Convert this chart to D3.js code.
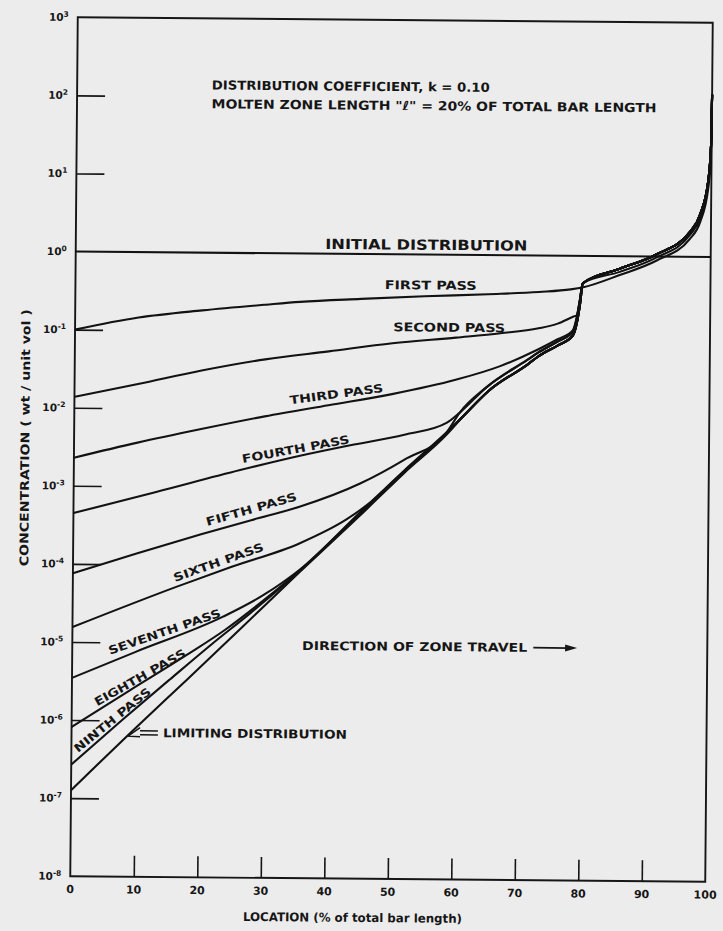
<!DOCTYPE html>
<html>
<head>
<meta charset="utf-8">
<script src="https://d3js.org/d3.v7.min.js"></script>
<title>Zone refining passes</title>
<style>
  body { margin: 0; background: #ececec; }
  text { font-family: "DejaVu Sans", sans-serif; font-weight: bold; fill: #161616; }
</style>
</head>
<body>
<div class="viz"></div>
<script>
// tick labels
var xTicks = [0, 10, 20, 30, 40, 50, 60, 70, 80, 90, 100];
var yExponents = [3, 2, 1, 0, -1, -2, -3, -4, -5, -6, -7, -8];

// curves: [location %, concentration]
var initialDist = [[0, 1], [100, 1]];
var firstPass = [[0, 0.100], [10, 0.145], [20, 0.182], [30, 0.219], [35.4, 0.240], [45, 0.266], [55, 0.292],
    [65, 0.316], [73, 0.342], [78, 0.372], [80, 0.398], [85.7, 0.575], [91.5, 0.891], [96.7, 1.70],
    [98.3, 2.82], [99.5, 7.41], [99.9, 21.4], [100, 120]];
var secondPass = [[0, 0.0138], [10, 0.0204], [20, 0.0309], [30, 0.0437], [40, 0.0562], [50, 0.0724],
    [60, 0.0871], [67, 0.100], [73, 0.117], [76, 0.135], [78.4, 0.166], [79.0, 0.174], [79.4, 0.251], [79.9, 0.447]];
var thirdPass = [[0, 0.00229], [10, 0.00363], [20, 0.00550], [30, 0.00813], [40, 0.0115], [50, 0.0162],
    [60, 0.0251], [67, 0.0380], [73, 0.0631], [76, 0.0851], [78.4, 0.112], [79.0, 0.166],
    [79.4, 0.257], [79.9, 0.447]];
var fourthPass = [[0, 4.47e-4], [13, 8.51e-4], [26.2, 1.66e-3], [35.6, 2.57e-3], [43.5, 3.55e-3], [52, 4.90e-3], [58.7, 7.08e-3]];
var fifthPass = [[0, 7.59e-5], [10, 1.38e-4], [20, 2.45e-4], [28, 3.80e-4], [35.7, 5.75e-4], [45.1, 1.15e-3], [52, 2.34e-3], [58.7, 5.37e-3]];
var sixthPass = [[0, 1.55e-5], [16.4, 5.25e-5], [25, 9.55e-5], [35.7, 1.95e-4], [43, 3.98e-4], [48.7, 8.91e-4], [54, 2.34e-3], [58.7, 5.25e-3]];
var seventhPass = [[0, 3.47e-6], [10, 7.59e-6], [23.7, 2.19e-5], [30, 4.17e-5], [35.7, 8.91e-5], [45, 4.79e-4], [52, 1.70e-3], [58.7, 5.37e-3]];
var eighthPass = [[0, 8.13e-7], [9, 2.40e-6], [18.1, 7.08e-6], [24, 1.48e-5], [30, 3.55e-5], [35.7, 8.71e-5], [45, 4.68e-4], [52, 1.66e-3], [58.7, 5.25e-3]];
var ninthPass = [[0, 2.69e-7], [8, 1.02e-6], [15.4, 3.39e-6], [22, 9.77e-6], [28, 2.45e-5], [35.7, 8.51e-5], [45, 4.57e-4], [52, 1.62e-3], [58.7, 5.13e-3]];
var limitingDist = [[0, 1.26e-7], [10, 7.94e-7], [18.1, 3.39e-6], [27, 1.70e-5], [35.7, 8.32e-5], [45, 4.37e-4], [52, 1.58e-3], [58.7, 5.01e-3]];
// shared stretches where the passes run together
var bundleHigh = [[60.7, 0.00955], [64.9, 0.0204], [71.2, 0.0457], [73, 0.0575], [76, 0.0794], [78.4, 0.107], [79.0, 0.158], [79.4, 0.245], [79.9, 0.447]];
var bundleLow = [[61.2, 0.00851], [65.2, 0.0182], [71.4, 0.0407], [73, 0.0513], [76, 0.0708], [78.4, 0.0955], [79.1, 0.151], [79.5, 0.245], [79.9, 0.447]];
var tailMid = [[85.7, 0.631], [91.5, 0.977], [96.7, 1.91], [98.3, 3.16], [99.5, 8.32], [99.9, 24.0], [100, 120]];
var tailUpper = [[85.7, 0.692], [91.5, 1.07], [96.7, 2.09], [98.3, 3.55], [99.5, 9.33], [99.9, 26.9], [100, 120]];

var curves = [
    initialDist,
    firstPass,
    secondPass.concat(tailMid),
    thirdPass.concat(tailUpper),
    fourthPass.concat(bundleHigh, tailUpper),
    fifthPass.concat(bundleHigh, tailUpper),
    sixthPass.concat(bundleLow, tailUpper),
    seventhPass.concat(bundleLow, tailUpper),
    eighthPass.concat(bundleLow, tailUpper),
    ninthPass.concat(bundleLow, tailUpper),
    limitingDist.concat(bundleLow, tailUpper)
];

var vizWidth = 723, vizHeight = 931;
var plotLeft = 74, plotRight = 709, plotTop = 20, plotBottom = 879;

var x = d3.scaleLinear().domain([0, 100]).range([plotLeft, plotRight]);
var y = d3.scaleLog().domain([1e-8, 1e3]).range([plotBottom, plotTop]);

var svg = d3.select("div").append("svg")
    .attr("width", vizWidth).attr("height", vizHeight)
    .style("display", "block");

svg.append("rect").attr("width", vizWidth).attr("height", vizHeight).attr("fill", "#ececec");

// the scan is a little askew
var g = svg.append("g").attr("transform", "rotate(0.5,391,450)");

g.append("rect")
    .attr("x", x(0)).attr("y", y(1e3))
    .attr("width", x(100) - x(0)).attr("height", y(1e-8) - y(1e3))
    .attr("fill", "none").attr("stroke", "#161616").attr("stroke-width", 1.9);

var yTickVals = yExponents.filter(function(e){ return e < 3 && e > -8 && e != 0; })
    .map(function(e){ return Math.pow(10, e); });

g.append("g")
    .attr("transform", "translate(" + x(0) + ",0)")
    .call(d3.axisLeft(y).tickValues(yTickVals).tickSizeInner(-28).tickSizeOuter(0).tickFormat(""))
    .call(function(a){ a.select(".domain").remove(); })
    .selectAll("line").attr("stroke", "#161616").attr("stroke-width", 1.6);

g.append("g")
    .attr("transform", "translate(0," + y(1e-8) + ")")
    .call(d3.axisBottom(x).tickValues(xTicks.slice(1, -1)).tickSizeInner(-21).tickSizeOuter(0).tickFormat(""))
    .call(function(a){ a.select(".domain").remove(); })
    .selectAll("line").attr("stroke", "#161616").attr("stroke-width", 1.6);

// tick labels
g.selectAll(".xlab").data(xTicks).enter().append("text")
    .attr("x", function(d){ return x(d); })
    .attr("y", y(1e-8) + 13)
    .attr("dy", "0.35em")
    .attr("text-anchor", "middle")
    .attr("font-size", 11)
    .text(function(d){ return d; });

var ylab = g.selectAll(".ylab").data(yExponents).enter().append("text")
    .attr("x", x(0) - 9)
    .attr("y", function(d){ return y(Math.pow(10, d)); })
    .attr("dy", "0.35em")
    .attr("text-anchor", "end")
    .attr("font-size", 10.5);
ylab.append("tspan").text("10");
ylab.append("tspan").attr("dy", "-0.55em").attr("font-size", 7.5).text(function(d){ return d; });

g.append("text")
    .attr("x", x(44.5)).attr("y", y(1e-8) + 39)
    .attr("dy", "0.35em").attr("text-anchor", "middle")
    .attr("font-size", 12)
    .attr("textLength", 219).attr("lengthAdjust", "spacingAndGlyphs")
    .text("LOCATION (% of total bar length)");

g.append("text")
    .attr("transform", "translate(25,441) rotate(-90)")
    .attr("dy", "0.35em").attr("text-anchor", "middle")
    .attr("font-size", 12)
    .attr("textLength", 257).attr("lengthAdjust", "spacingAndGlyphs")
    .text("CONCENTRATION ( wt / unit vol )");

// curves
var line = d3.line()
    .x(function(d){ return x(d[0]); })
    .y(function(d){ return y(d[1]); })
    .curve(d3.curveMonotoneX);

g.selectAll(".curve").data(curves).enter().append("path")
    .attr("d", line)
    .attr("fill", "none")
    .attr("stroke", "#121212")
    .attr("stroke-width", 2.1)
    .attr("stroke-linejoin", "round");

// labels
var flatLabels = [
    {t: "DISTRIBUTION COEFFICIENT, k = 0.10", x: 21.2, c: 140, len: 278, fs: 12.5},
    {t: "MOLTEN ZONE LENGTH \"\u2113\" = 20% OF TOTAL BAR LENGTH", x: 21.2, c: 80.2, len: 445, fs: 12.5},
    {t: "INITIAL DISTRIBUTION", x: 39.3, c: 1.33, len: 202, fs: 14},
    {t: "FIRST PASS", x: 48.7, c: 0.405, len: 92, fs: 12},
    {t: "SECOND PASS", x: 50.1, c: 0.117, len: 112, fs: 12},
    {t: "DIRECTION OF ZONE TRAVEL", x: 36.2, c: 9.5e-6, len: 225, fs: 12},
    {t: "LIMITING DISTRIBUTION", x: 14.4, c: 7.0e-7, len: 184, fs: 12}
];
g.selectAll(".flat").data(flatLabels).enter().append("text")
    .attr("x", function(d){ return x(d.x); })
    .attr("y", function(d){ return y(d.c); })
    .attr("dy", "0.35em")
    .attr("font-size", function(d){ return d.fs; })
    .attr("textLength", function(d){ return d.len; })
    .attr("lengthAdjust", "spacingAndGlyphs")
    .text(function(d){ return d.t; });

var slantLabels = [
    {t: "THIRD PASS", x: 34.0, c: 0.0117, a: -8, len: 94},
    {t: "FOURTH PASS", x: 26.6, c: 0.00204, a: -11, len: 109},
    {t: "FIFTH PASS", x: 21.1, c: 3.16e-4, a: -16.5, len: 94},
    {t: "SIXTH PASS", x: 16.1, c: 6.03e-5, a: -20, len: 95},
    {t: "SEVENTH PASS", x: 5.95, c: 6.92e-6, a: -19.5, len: 118},
    {t: "EIGHTH PASS", x: 4.0, c: 1.51e-6, a: -30, len: 103},
    {t: "NINTH PASS", x: 1.05, c: 3.8e-7, a: -39.5, len: 95}
];
g.selectAll(".slant").data(slantLabels).enter().append("text")
    .attr("transform", function(d){
        return "translate(" + x(d.x) + "," + y(d.c) + ") rotate(" + d.a + ")";
    })
    .attr("font-size", 11.5)
    .attr("textLength", function(d){ return d.len; })
    .attr("lengthAdjust", "spacingAndGlyphs")
    .text(function(d){ return d.t; });

// arrows
var arrowTravel = [[72.6, 9.5e-6], [79.5, 9.5e-6]];
var x1 = x(arrowTravel[0][0]), x2 = x(arrowTravel[1][0]), ya = y(arrowTravel[0][1]);
g.append("line").attr("x1", x1).attr("y1", ya).attr("x2", x2 - 8).attr("y2", ya)
    .attr("stroke", "#161616").attr("stroke-width", 1.8);
g.append("path")
    .attr("d", "M" + x2 + "," + ya + "L" + (x2 - 12) + "," + (ya - 3.5) + "L" + (x2 - 12) + "," + (ya + 3.5) + "Z")
    .attr("fill", "#161616");

var arrowLimit = [[13.6, 7.0e-7], [8.9, 6.3e-7]];
var ax0 = x(arrowLimit[0][0]), ay0 = y(arrowLimit[0][1]);
var ax1 = x(arrowLimit[1][0]), ay1 = y(arrowLimit[1][1]);
g.append("path")
    .attr("d", "M" + ax0 + "," + (ay0 - 2) + "L" + (ax1 + 12) + "," + (ay0 - 2) +
               "M" + ax0 + "," + (ay0 + 2) + "L" + (ax1 + 12) + "," + (ay0 + 2) +
               "M" + (ax1 + 12) + "," + (ay0 - 5) + "L" + ax1 + "," + ay1 + "L" + (ax1 + 12) + "," + (ay0 + 4))
    .attr("fill", "none").attr("stroke", "#161616").attr("stroke-width", 1.5);
</script>
</body>
</html>
